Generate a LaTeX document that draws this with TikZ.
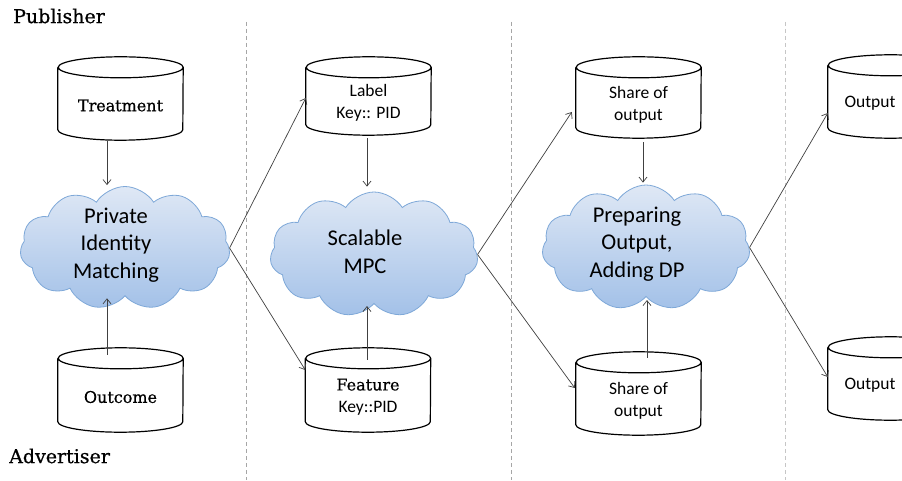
\documentclass[tikz,border=0pt]{standalone}
\usepackage{fontspec}
\setmainfont{Carlito}
\newfontfamily\slab{DejaVu Serif}[FakeBold=0.7]
\usetikzlibrary{shapes.symbols,arrows.meta}
\definecolor{cloudtop}{HTML}{DFE8F5}
\definecolor{cloudbot}{HTML}{A3C1E8}
\definecolor{cloudline}{HTML}{7EA8D8}
\definecolor{arrgray}{HTML}{404040}
\tikzset{
  cylbody/.style={rectangle, minimum width=125pt, inner sep=0pt, draw=none},
  cylline/.style={draw=black, line width=1.2pt},
  cyltext/.style={font=\fontsize{17.5}{22}\selectfont, align=center, inner sep=0pt},
  partytext/.style={font=\slab\fontsize{19}{22}\selectfont, anchor=west, inner sep=0pt},
  cloudnode/.style={cloud, cloud puffs=11, cloud puff arc=115, cloud ignores aspect,
    minimum width=210pt, minimum height=123pt, draw=cloudline, line width=0.8pt,
    top color=cloudtop, bottom color=cloudbot, inner sep=0pt},
  cloudtext/.style={font=\fontsize{22.5}{27.5}\selectfont, align=center, inner sep=0pt},
  arr/.style={draw=arrgray, line width=0.7pt, -{Straight Barb[length=5pt,width=8pt]}},
  sep/.style={draw=gray!70, line width=0.8pt, dash pattern=on 4pt off 3pt},
}
\newcommand\mycyl[6][0pt]{% [text xshift] name, x, y, height, text
  \node[cylbody, minimum height=#5] (#2) at (#3,#4) {};
  \draw[cylline] ([yshift=-10.5pt]#2.north west) -- ([yshift=10.5pt]#2.south west)
    arc[start angle=180, end angle=360, x radius=62.5pt, y radius=10.5pt]
    -- ([yshift=-10.5pt]#2.north east)
    arc[start angle=0, end angle=360, x radius=62.5pt, y radius=10.5pt];
  \node[cyltext] (#2-t) at ([xshift=#1,yshift=-7pt]#2.center) {#6};
}
\begin{document}
\begin{tikzpicture}[x=1pt,y=1pt]
\useasboundingbox (0,0) rectangle (902,480);
\clip (0,0) rectangle (902,480);
\fill[white] (0,0) rectangle (902,480);

% separators
\coordinate (s1t) at (246,458); \coordinate (s1b) at (246,0);
\coordinate (s2t) at (511,458); \coordinate (s2b) at (511,0);
\coordinate (s3t) at (785.5,458); \coordinate (s3b) at (785.5,0);
\draw[sep] (s1t) -- (s1b);
\draw[sep] (s2t) -- (s2b);
\draw[sep, draw=gray!45] (s3t) -- (s3b);

% party labels
\node[partytext] (pub) at (13,464) {Publisher};
\node[partytext] (adv) at (9,24) {Advertiser};

% cylinders
\mycyl{treat}{120.5}{381.5}{83pt}{\slab\fontsize{16}{22}\selectfont Treatment}
\mycyl{outc}{120.5}{90}{84pt}{\slab\fontsize{16}{22}\selectfont Outcome}
\mycyl{label}{368.5}{384}{78pt}{Label\\Key:: PID}
\mycyl{feat}{368}{90}{84pt}{{\slab\fontsize{16}{22}\selectfont Feature}\\Key::PID}
\mycyl{sh1}{638.5}{382.5}{81pt}{Share of\\output}
\mycyl{sh2}{638.5}{86.5}{83pt}{Share of\\output}
\mycyl[-20.5pt]{out1}{890.5}{383.5}{83pt}{Output}
\mycyl[-20.5pt]{out2}{890.5}{101.5}{83pt}{Output}

% clouds
\node[cloudnode] (c1) at (125,232) {};
\node[cloudtext] (c1t) at (116,235) {Private\\Identity\\Matching};
\node[cloudnode, minimum height=125pt, minimum width=208pt] (c2) at (374,225.5) {};
\node[cloudtext] (c2t) at (365,228) {Scalable\\MPC};
\node[cloudnode, minimum height=125pt, minimum width=208pt] (c3) at (646,232.5) {};
\node[cloudtext] (c3t) at (637,236) {Preparing\\Output,\\Adding DP};

% vertical arrows
\draw[arr] ([xshift=-13.5pt,yshift=-1pt]treat.south) -- ([xshift=-13.5pt,yshift=1pt]treat.south |- c1.north);
\draw[arr] ([xshift=-13.5pt,yshift=-7pt]outc.north) -- ([xshift=-13.5pt,yshift=-2pt]outc.north |- c1.south);
\draw[arr] ([xshift=-1.5pt,yshift=-3pt]label.south) -- ([xshift=-1.5pt,yshift=5pt]label.south |- c2.north);
\draw[arr] ([xshift=-1pt,yshift=-12pt]feat.north) -- ([xshift=-1pt,yshift=-2pt]feat.north |- c2.south);
\draw[arr] ([xshift=4.5pt,yshift=-4pt]sh1.south) -- ([xshift=4.5pt,yshift=2pt]sh1.south |- c3.north);
\draw[arr] ([xshift=8.5pt,yshift=-6pt]sh2.north) -- ([xshift=8.5pt,yshift=-3pt]sh2.north |- c3.south);

% diagonal arrows
\draw[arr] (c1.east) -- ([yshift=-2pt]label.west);
\draw[arr] (c1.east) -- ([yshift=20pt]feat.west);
\draw[arr] (c2.east) -- ([xshift=-4pt,yshift=-14.5pt]sh1.west);
\draw[arr] (c2.east) -- ([xshift=-1pt,yshift=5.5pt]sh2.west);
\draw[arr] (c3.east) -- ([yshift=-16.5pt]out1.west);
\draw[arr] (c3.east) -- ([yshift=1.5pt]out2.west);
\end{tikzpicture}
\end{document}
